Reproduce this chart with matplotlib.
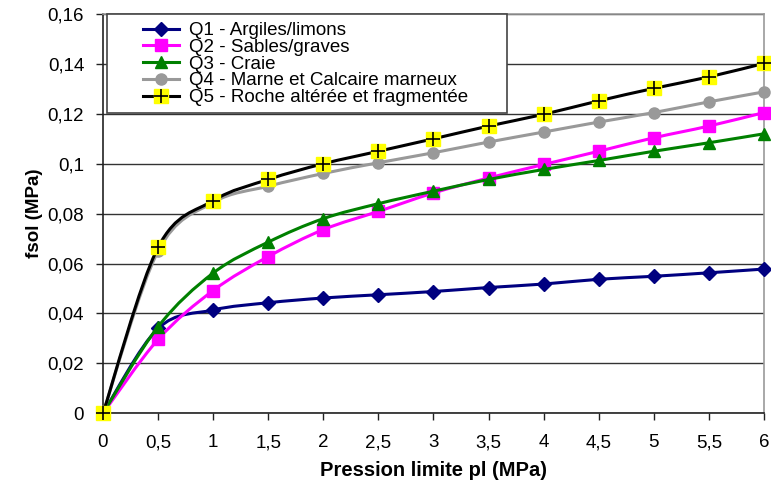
import matplotlib
matplotlib.use("Agg")
import matplotlib.pyplot as plt
import numpy as np
from matplotlib.path import Path
from matplotlib.patches import PathPatch, Rectangle
from matplotlib.lines import Line2D
from matplotlib.ticker import FuncFormatter

plt.rcParams['font.family'] = ['Liberation Sans', 'DejaVu Sans']

pl = [0, 0.5, 1, 1.5, 2, 2.5, 3, 3.5, 4, 4.5, 5, 5.5, 6]
q1 = [0, 0.0340, 0.0414, 0.0443, 0.0462, 0.0475, 0.0488, 0.0504, 0.0518, 0.0537, 0.0549, 0.0563, 0.0578]
q2 = [0, 0.0296, 0.0492, 0.0628, 0.0736, 0.0809, 0.0883, 0.0943, 0.0997, 0.1050, 0.1104, 0.1151, 0.1205]
q3 = [0, 0.0347, 0.0562, 0.0686, 0.0780, 0.0840, 0.0890, 0.0937, 0.0977, 0.1013, 0.1050, 0.1084, 0.1120]
q4 = [0, 0.0650, 0.0845, 0.0910, 0.0961, 0.1004, 0.1044, 0.1087, 0.1127, 0.1167, 0.1205, 0.1248, 0.1288]
q5 = [0, 0.0665, 0.0852, 0.0937, 0.1000, 0.1050, 0.1100, 0.1151, 0.1198, 0.1252, 0.1302, 0.1348, 0.1402]
labels = ["Q1 - Argiles/limons", "Q2 - Sables/graves", "Q3 - Craie",
          "Q4 - Marne et Calcaire marneux", "Q5 - Roche altérée et fragmentée"]

W, H = 771, 484
fig = plt.figure(figsize=(W / 100, H / 100), dpi=100)
x0, x1, ytop, ybot = 103, 764, 14, 413.3
ax = fig.add_axes([x0 / W, 1 - ybot / H, (x1 - x0) / W, (ybot - ytop) / H])
ax.set_xlim(0, 6)
ax.set_ylim(0, 0.16)


def smooth_path(xs, ys):
    # Excel-like smoothed line: cubic Bezier (Catmull-Rom, tension 1/6)
    P = np.column_stack([xs, ys]).astype(float)
    n = len(P)
    verts = [P[0]]
    codes = [Path.MOVETO]
    for i in range(n - 1):
        p0 = P[i - 1] if i > 0 else P[i]
        p1 = P[i]
        p2 = P[i + 1]
        p3 = P[i + 2] if i + 2 < n else P[i + 1]
        c1 = p1 + (p2 - p0) / 6.0
        c2 = p2 - (p3 - p1) / 6.0
        verts += [c1, c2, p2]
        codes += [Path.CURVE4] * 3
    return Path(verts, codes)


series = [
    (q1, '#000080', dict(marker='D', ms=7.5, mfc='#000080', mec='#000080')),
    (q2, '#FF00FF', dict(marker='s', ms=8, mfc='#FF00FF', mec='#FF00FF')),
    (q3, '#008000', dict(marker='^', ms=9, mfc='#008000', mec='#008000')),
    (q4, '#999999', dict(marker='o', ms=8, mfc='#999999', mec='#999999')),
    (q5, '#000000', dict(marker='s', ms=10.5, mfc='#FFFF00', mec='#FFFF00')),
]

handles = []
for k, (ys, col, mk) in enumerate(series):
    z = 3 + k
    patch = PathPatch(smooth_path(pl, ys), fill=False, edgecolor=col, lw=2.2,
                      zorder=z, capstyle='round', joinstyle='round')
    ax.add_patch(patch)
    ax.plot(pl, ys, linestyle='none', zorder=z + 0.5, clip_on=False, **mk)
    h = Line2D([], [], color=col, lw=2.2, **mk)
    if k == 4:
        ax.plot(pl, ys, linestyle='none', marker='+', ms=10, mew=1.2,
                color='black', zorder=z + 0.6, clip_on=False)
        hp = Line2D([], [], linestyle='none', marker='+', ms=10, mew=1.2, color='black')
        h = (h, hp)
    handles.append(h)

# grid
ax.set_yticks(np.arange(0, 0.1601, 0.02))
ax.set_xticks(np.arange(0, 6.01, 0.5))
ax.yaxis.grid(True, color='#333333', lw=1.0, zorder=1)
ax.set_axisbelow(True)


def fr(v, pos):
    s = ('%.2f' % v).rstrip('0').rstrip('.')
    return s.replace('.', ',')


ax.yaxis.set_major_formatter(FuncFormatter(fr))
ax.xaxis.set_major_formatter(FuncFormatter(fr))
ax.tick_params(axis='both', direction='out', length=5, width=1, colors='#222222',
               labelsize=13.5, labelcolor='black')
ax.tick_params(axis='y', pad=8.5)
ax.tick_params(axis='x', pad=10)
for s in ['top', 'right']:
    ax.spines[s].set_color('#999999')
    ax.spines[s].set_linewidth(1.2)
for s in ['left', 'bottom']:
    ax.spines[s].set_color('#222222')
    ax.spines[s].set_linewidth(1.2)

ax.set_xlabel('Pression limite pl (MPa)', fontsize=14.5, fontweight='bold', labelpad=7)
ax.set_ylabel('fsol (MPa)', fontsize=13.5, fontweight='bold', labelpad=3)

# legend box (drawn separately for Excel-like padding)
pw, ph = x1 - x0, ybot - ytop
box = Rectangle(((107 - x0) / pw, (ybot - 113) / ph), 400 / pw, 99 / ph,
                transform=ax.transAxes, facecolor='white', edgecolor='#444444',
                lw=1.2, zorder=19, clip_on=False)
ax.add_patch(box)
leg = ax.legend(handles, labels, loc='upper left',
                bbox_to_anchor=((143 - x0) / pw, (ybot - 22) / ph),
                fontsize=13.5, frameon=False, borderaxespad=0, borderpad=0,
                handlelength=1.9, handletextpad=0.55, labelspacing=-0.02)
leg.set_zorder(20)

fig.savefig('out.png', dpi=100)
